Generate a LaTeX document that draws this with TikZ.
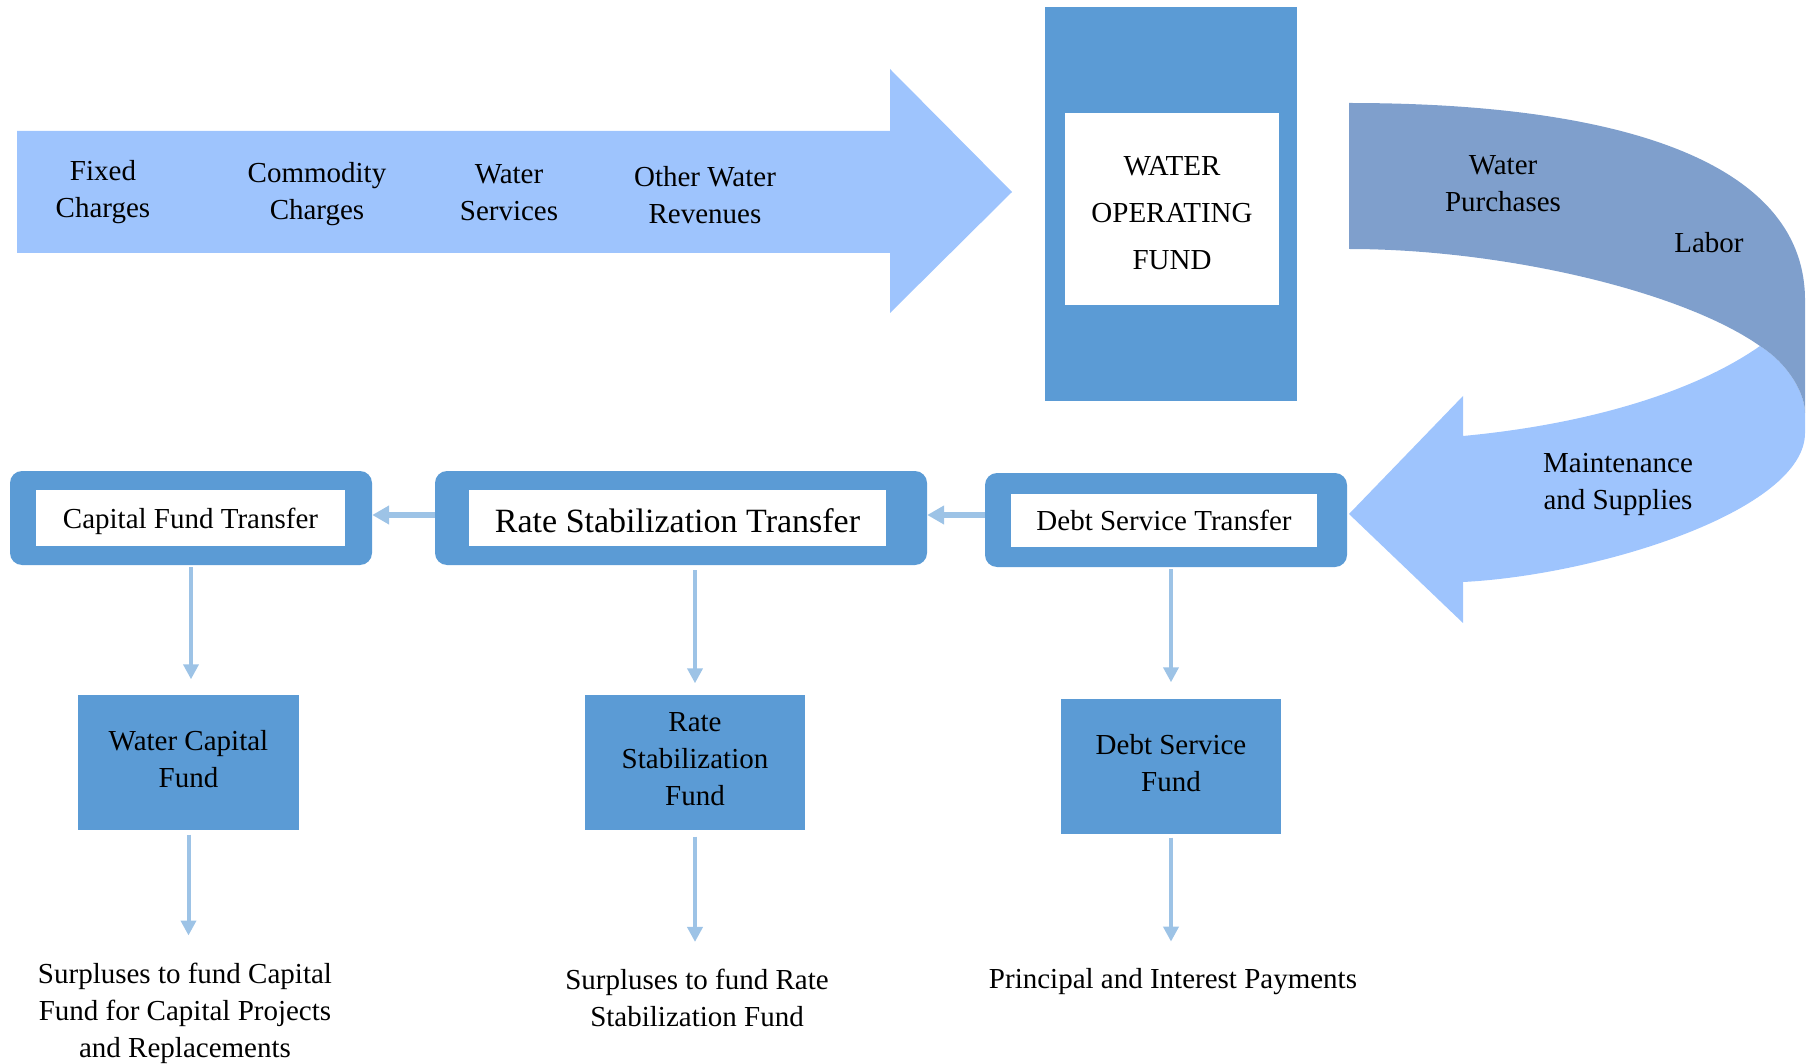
\documentclass[tikz,border=0pt]{standalone}
\usepackage{fontspec}
\setmainfont{Liberation Serif}
\usetikzlibrary{arrows.meta}
\usetikzlibrary{positioning}

\definecolor{fundblue}{RGB}{91,155,213}
\definecolor{revblue}{RGB}{158,196,253}
\definecolor{costblue}{RGB}{127,159,204}
\definecolor{linkblue}{RGB}{157,195,230}

\begin{document}
\begin{tikzpicture}[x=1pt,y=-1pt,
    txt/.style={font=\fontsize{29}{37}\selectfont, align=center, inner sep=0pt},
    transout/.style={fill=fundblue, rounded corners=12pt, minimum height=94pt, inner sep=0pt},
    transin/.style={txt, fill=white, minimum height=56pt, text height=21pt, text depth=1pt},
    fundbox/.style={txt, fill=fundblue, minimum width=221pt, minimum height=135pt, text depth=6pt},
    linkdown/.style={draw=linkblue, line width=4pt, -{Triangle[length=15pt,width=15pt]}},
    linkside/.style={draw=linkblue, line width=6pt, -{Triangle[length=17pt,width=18pt]}}]
    \useasboundingbox (0,0) rectangle (1813,1064);

    % revenues arrow
    \fill[revblue] (17,131) -- (890,131) -- (890,69) -- (1012,192) -- (890,313) -- (890,253) -- (17,253) -- cycle;
    \node[txt] (fixed) at (103,192) {Fixed\\Charges};
    \node[txt] (commodity) at (317,194) {Commodity\\Charges};
    \node[txt] (watersvc) at (509,193) {Water\\Services};
    \node[txt] (otherrev) at (705,195) {Other Water\\Revenues};

    % operating fund
    \node[fill=fundblue, minimum width=252pt, minimum height=394pt] (wofout) at (1171,204) {};
    \node[fill=white, minimum width=214pt, minimum height=192pt] (wof) at (1172,209) {};
    \node[txt, font=\fontsize{29}{47}\selectfont] (woftxt) at (1172,213) {WATER\\OPERATING\\FUND};

    % expenses arrow
    \fill[revblue] (1760,346) .. controls (1790,365) and (1805,395) .. (1805,413) -- (1805,433) .. controls (1805,510) and (1600,575) .. (1463,582) -- (1463,623) -- (1349,514) -- (1463,396) -- (1463,436) .. controls (1580,425) and (1690,395) .. (1760,346) -- cycle;
    \fill[costblue] (1349,103) .. controls (1640,103) and (1805,170) .. (1805,300) -- (1805,413) .. controls (1805,395) and (1790,365) .. (1760,346) .. controls (1680,290) and (1500,249) .. (1349,249) -- cycle;
    \node[txt] (purch) at (1503,183.5) {Water\\Purchases};
    \node[txt] (labor) at (1709,243) {Labor};
    \node[txt] (maint) at (1618,484.5) {Maintenance\\and Supplies};

    % transfers
    \node[transout, minimum width=362pt] (cftout) at (191,518) {};
    \node[transin, minimum width=309pt] (cft) at (190.5,518) {Capital Fund Transfer};
    \node[transout, minimum width=492pt] (rstout) at (681,518) {};
    \node[transin, minimum width=417pt, text height=29pt, font=\fontsize{34}{40}\selectfont] (rst) at (677.5,518) {Rate Stabilization Transfer};
    \node[transout, minimum width=362pt] (dstout) at (1166,520) {};
    \node[transin, minimum width=306pt, minimum height=53pt] (dst) at (1164,520.5) {Debt Service Transfer};

    \draw[linkside] ([yshift=5pt]dstout.west) -- ([yshift=5pt]dstout.west -| rstout.east);
    \draw[linkside] ([yshift=3pt]rstout.west) -- ([yshift=3pt]rstout.west -| cftout.east);

    % funds
    \node[fundbox] (wcf) at (188.5,762) {Water Capital\\Fund};
    \node[fundbox, minimum width=220pt] (rsf) at (695,762) {Rate\\Stabilization\\Fund};
    \node[fundbox, minimum width=220pt] (dsf) at (1171,766) {Debt Service\\Fund};

    \draw[linkdown, shorten <=2pt, shorten >=15pt] (cftout.south) -- (cftout.south |- wcf.north);
    \draw[linkdown, shorten <=5pt, shorten >=11pt] (rsf.north |- rstout.south) -- (rsf.north);
    \draw[linkdown, shorten <=2pt, shorten >=16pt] (dsf.north |- dstout.south) -- (dsf.north);

    % uses
    \node[txt] (capsur) at (185,1013) {Surpluses to fund Capital\\Fund for Capital Projects\\and Replacements};
    \node[txt] (ratesur) at (697,998) {Surpluses to fund Rate\\Stabilization Fund};
    \node[txt] (debtpay) at (1173,982) {Principal and Interest Payments};

    \draw[linkdown, shorten <=5pt, shorten >=27pt] (wcf.south) -- (wcf.south |- capsur.north);
    \draw[linkdown, shorten <=7pt, shorten >=27pt] (rsf.south) -- (rsf.south |- ratesur.north);
    \draw[linkdown, shorten <=4pt, shorten >=27pt] (dsf.south) -- (dsf.south |- debtpay.north);
\end{tikzpicture}
\end{document}
